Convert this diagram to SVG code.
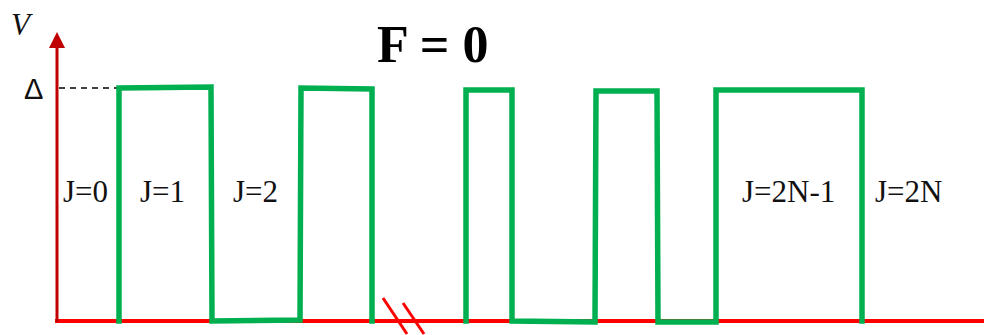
<svg xmlns="http://www.w3.org/2000/svg" width="984" height="335" viewBox="0 0 984 335">
<style>
.lbl{font-family:"Liberation Serif","Times New Roman",serif;font-size:31px;fill:#111}
.wave{fill:none;stroke:#00B050;stroke-width:5.5;stroke-linejoin:miter;stroke-linecap:square}
</style>
<rect width="984" height="335" fill="#fff"/>
<g id="axes">
<line x1="55" y1="321" x2="984" y2="321" stroke="#FF0000" stroke-width="4"/>
<line x1="57" y1="322" x2="57" y2="45" stroke="#C00000" stroke-width="3"/>
<polygon points="57,32 49,48 65,48" fill="#C00000"/>
<line x1="59" y1="88" x2="117" y2="88" stroke="#000" stroke-width="1.5" stroke-dasharray="6,5"/>
<line x1="383" y1="298" x2="407" y2="334" stroke="#FF0000" stroke-width="3"/>
<line x1="403" y1="303" x2="424" y2="334" stroke="#FF0000" stroke-width="3"/>
</g>
<g id="waveform">
<path class="wave" d="M119,321 L119,88 L211,87 L212,321 L300,320 L301,88 L372,89 L372,321"/>
<path class="wave" d="M466,321 L466,90 L512,90 L512,321 L595,322 L596,91 L657,91 L658,322 L716,322 L716,90 L862,90 L862,321"/>
</g>
<g id="labels">
<text x="11" y="35" font-family="Liberation Serif,serif" font-style="italic" font-size="31" fill="#111">V</text>
<text x="24" y="99" font-family="Liberation Sans,Arial,sans-serif" font-size="29" fill="#111">Δ</text>
<text x="377" y="62" font-family="Liberation Serif,serif" font-weight="bold" font-size="52" fill="#000">F = 0</text>
<text class="lbl" x="63" y="202">J=0</text>
<text class="lbl" x="140" y="202">J=1</text>
<text class="lbl" x="233" y="202">J=2</text>
<text class="lbl" x="742" y="202">J=2N-1</text>
<text class="lbl" x="875" y="202">J=2N</text>
</g>
</svg>
